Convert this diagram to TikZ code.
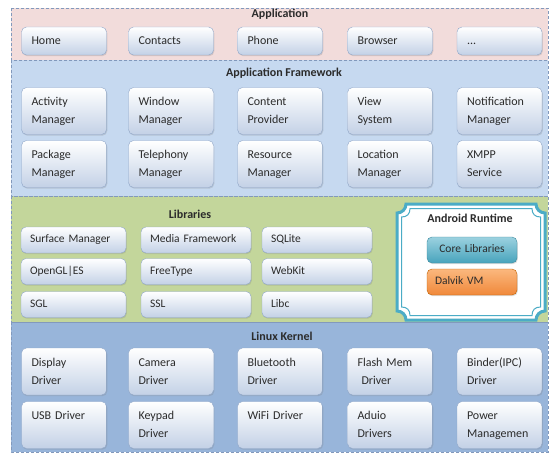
\documentclass[tikz,border=0pt]{standalone}
\usepackage{fontspec}
\setmainfont{Carlito}
\usetikzlibrary{shadows}

\definecolor{appband}{HTML}{F2DCDB}
\definecolor{fwband}{HTML}{C6D9F0}
\definecolor{libband}{HTML}{C3D69B}
\definecolor{krnband}{HTML}{98B5DA}
\definecolor{dashcol}{HTML}{8299BC}
\definecolor{boxline}{HTML}{8FA6C8}
\definecolor{boxbot}{HTML}{C3D1E6}
\definecolor{txt}{HTML}{2B2B2B}
\definecolor{rtline}{HTML}{4BACC6}

\begin{document}
\begin{tikzpicture}[x=1pt, y=-1pt,
    layer/.style={draw=dashcol, line width=0.9pt, dash pattern=on 3pt off 2pt},
    title/.style={font=\fontsize{12}{14}\selectfont\bfseries, text=txt},
    modbox/.style={draw=boxline, rounded corners=5pt, top color=white, bottom color=boxbot,
      align=left, inner xsep=10pt, inner ysep=0pt, text=txt,
      font=\fontsize{12}{18}\selectfont,
      execute at begin node={\strut}, execute at end node={\strut},
      drop shadow={opacity=0.25, shadow xshift=0.8pt, shadow yshift=-1.2pt}},
    appbox/.style={modbox, text width=65pt, minimum height=28pt},
    fwbox/.style={modbox, text width=65pt, minimum height=47pt},
    libbox/.style={modbox, inner xsep=9pt, minimum height=26pt, font=\fontsize{11.5}{14}\selectfont}]
    \useasboundingbox (0,0) rectangle (559,460);

    % layers
    \fill[appband] (11,8) rectangle (548,60);
    \fill[fwband] (11,60) rectangle (548,196);
    \fill[libband] (11,196) rectangle (548,322);
    \fill[krnband] (11,322) rectangle (548,452);
    \draw[layer] (11,8) rectangle (548,60);
    \draw[layer] (11,60) rectangle (548,196);
    \draw[layer] (11,196) rectangle (548,322);
    \draw[layer] (11,322) rectangle (548,452);

    % application
    \node[title] (apptitle) at (280,14) {Application};
    \node[appbox] (home) at (64,41) {Home};
    \node[appbox] (contacts) at (171,41) {Contacts};
    \node[appbox] (phone) at (280,41) {Phone};
    \node[appbox] (browser) at (390,41) {Browser};
    \node[appbox] (more) at (499.5,41) {...};

    % application framework
    \node[title] (fwtitle) at (284,73) {Application Framework};
    \node[fwbox] (activity) at (64,111) {Activity\\Manager};
    \node[fwbox] (window) at (171,111) {Window\\Manager};
    \node[fwbox] (content) at (280,111) {Content\\Provider};
    \node[fwbox] (view) at (390,111) {View\\System};
    \node[fwbox] (notify) at (499.5,111) {Notification\\Manager};
    \node[fwbox] (package) at (64,164) {Package\\Manager};
    \node[fwbox] (telephony) at (171,164) {Telephony\\Manager};
    \node[fwbox] (resource) at (280,164) {Resource\\Manager};
    \node[fwbox] (location) at (390,164) {Location\\Manager};
    \node[fwbox] (xmpp) at (499.5,164) {XMPP\\Service};

    % libraries
    \node[title] (libtitle) at (190,214) {Libraries};
    \node[libbox, text width=87pt] (surface) at (73.5,240) {Surface Manager};
    \node[libbox, text width=92pt] (media) at (196,240) {Media Framework};
    \node[libbox, text width=92pt] (sqlite) at (317,240) {SQLite};
    \node[libbox, text width=87pt] (opengl) at (73.5,271.5) {OpenGL|ES};
    \node[libbox, text width=92pt] (freetype) at (196,271.5) {FreeType};
    \node[libbox, text width=92pt] (webkit) at (317,271.5) {WebKit};
    \node[libbox, text width=87pt] (sgl) at (73.5,304.5) {SGL};
    \node[libbox, text width=92pt] (ssl) at (196,304.5) {SSL};
    \node[libbox, text width=92pt] (libc) at (317,304.5) {Libc};

    % android runtime
    \filldraw[fill=white, draw=rtline, line width=3pt]
      (406,204) -- (536,204) .. controls (536,209) and (540,213) .. (545,213)
      -- (545,311) .. controls (540,311) and (536,315) .. (536,320)
      -- (406,320) .. controls (406,315) and (402,311) .. (397,311)
      -- (397,213) .. controls (402,213) and (406,209) .. (406,204) -- cycle;
    \draw[rtline, line width=1pt]
      (410,208.5) -- (532,208.5) .. controls (532,214) and (535,217) .. (540.5,217)
      -- (540.5,307) .. controls (535,307) and (532,310) .. (532,315.5)
      -- (410,315.5) .. controls (410,310) and (407,307) .. (401.5,307)
      -- (401.5,217) .. controls (407,217) and (410,214) .. (410,208.5) -- cycle;
    \node[title] (rttitle) at (470,218) {Android Runtime};
    \node[libbox, draw=rtline!80!black, top color=rtline!55, bottom color=rtline!95!black,
      text width=74pt, inner xsep=8pt, align=center] (core) at (472,250) {Core Libraries};
    \node[libbox, draw=orange!75!black, top color={rgb,255:red,251;green,184;blue,126},
      bottom color={rgb,255:red,240;green,136;blue,58},
      text width=74pt, inner xsep=8pt] (dalvik) at (472,282) {Dalvik VM};

    % linux kernel
    \node[title] (krntitle) at (282,336) {Linux Kernel};
    \node[fwbox] (display) at (64,371.5) {Display\\Driver};
    \node[fwbox] (camera) at (171,371.5) {Camera\\Driver};
    \node[fwbox] (bluetooth) at (280,371.5) {Bluetooth\\Driver};
    \node[fwbox] (flash) at (390,371.5) {Flash Mem\\\hspace*{4pt}Driver};
    \node[fwbox] (binder) at (499.5,371.5) {Binder(IPC)\\Driver};
    \node[fwbox] (usb) at (64,425) {USB Driver\\\phantom{Driver}};
    \node[fwbox] (keypad) at (171,425) {Keypad\\Driver};
    \node[fwbox] (wifi) at (280,425) {WiFi Driver\\\phantom{Driver}};
    \node[fwbox] (audio) at (390,425) {Aduio\\Drivers};
    \node[fwbox] (power) at (499.5,425) {Power\\Managemen};
\end{tikzpicture}
\end{document}
